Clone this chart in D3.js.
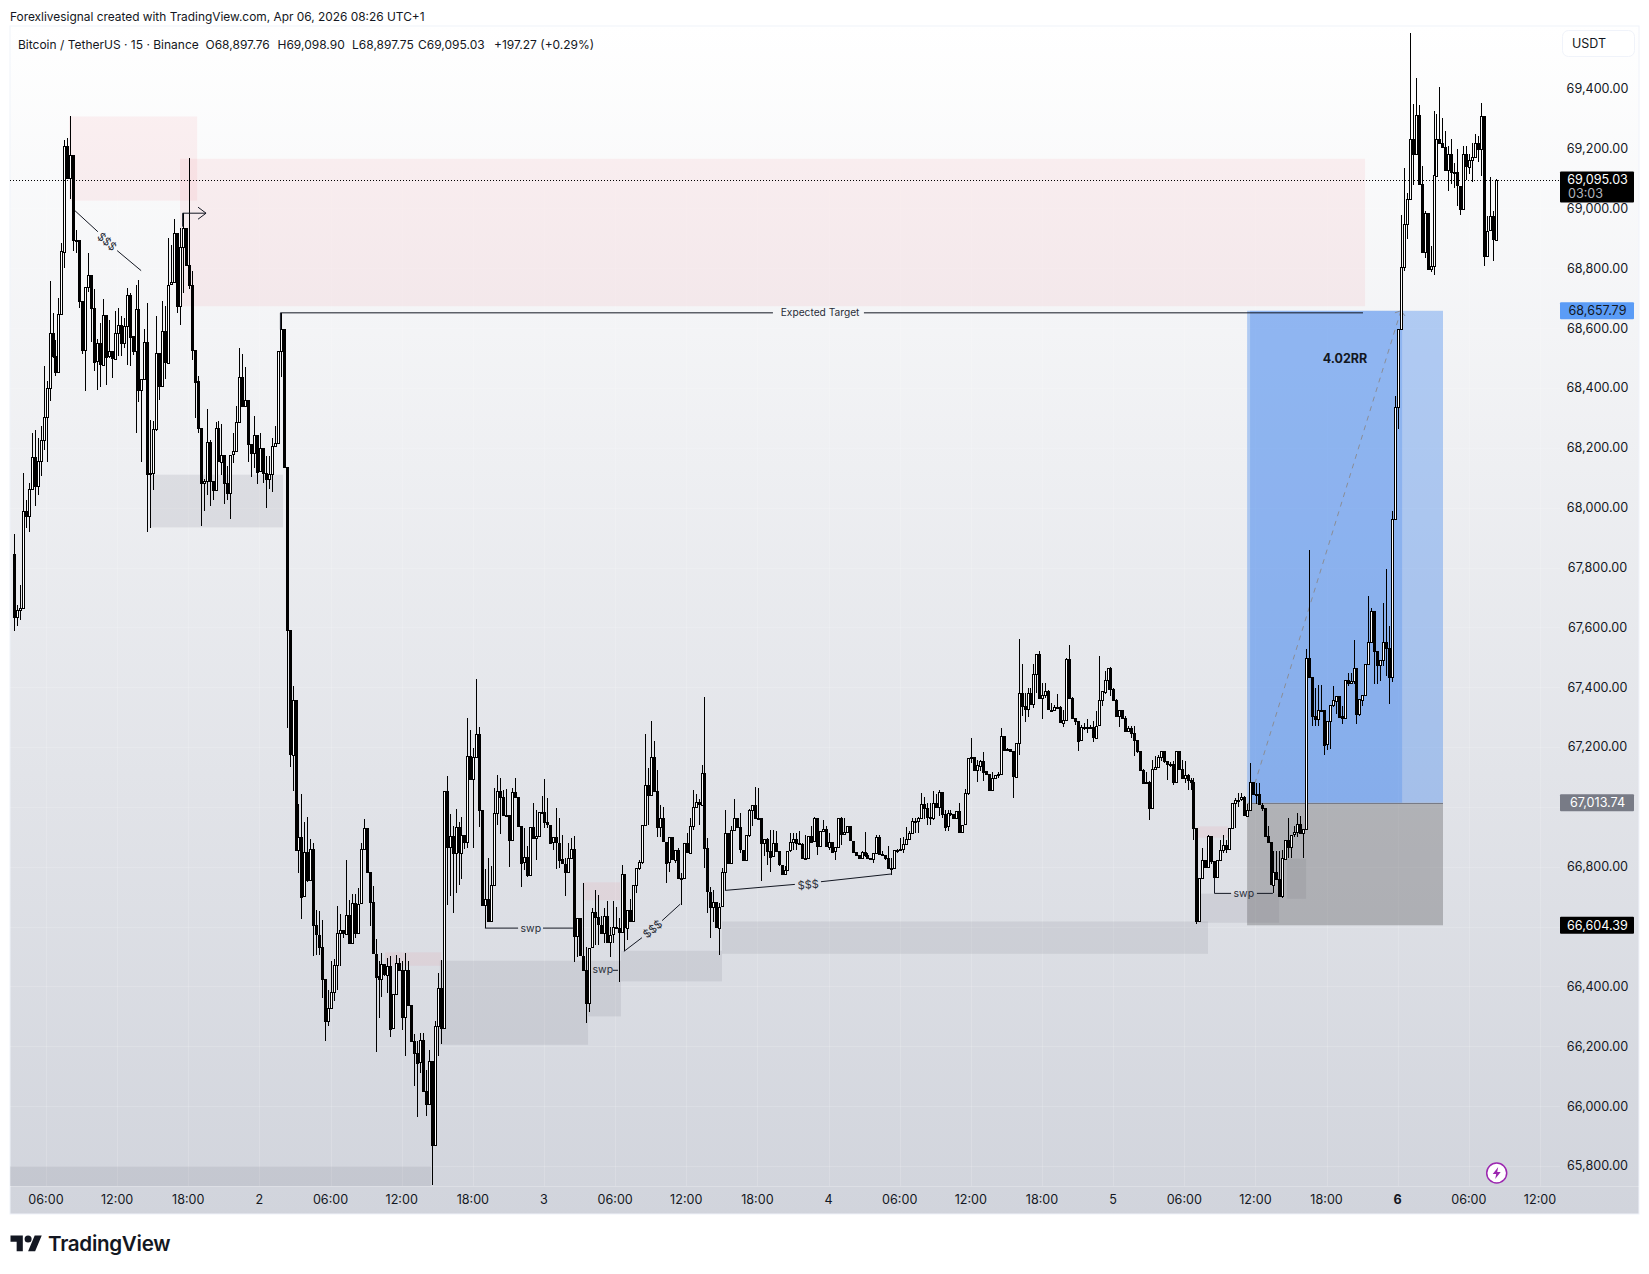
<!DOCTYPE html>
<html>
<head>
<meta charset="utf-8">
<script src="https://cdn.jsdelivr.net/npm/d3@7"></script>
<style>
html, body {margin: 0; background: #fff;}
svg {display: block;}
text {font-family: Inter, 'Noto Sans', sans-serif; fill: #131722;}
</style>
</head>
<body>
<svg id="chart" width="1649" height="1274"></svg>
<script>
// BTCUSDT 15m, values. open of a bar = close of the bar before
var firstOpen = 67846

var closes = [
  67637,67659,67665,67988,67971,68062,68169,68071,68155,68225,
  68303,68400,68584,68506,68452,68647,68857,69210,69102,69180,
  68896,68894,68690,68526,68738,68779,68668,68489,68550,68479,
  68645,68506,68522,68497,68584,68610,68550,68608,68712,68573,
  68522,68664,68394,68430,68554,68112,68116,68263,68517,68406,
  68589,68486,68745,68753,68918,68673,68871,68935,68812,68745,
  68528,68422,68266,68082,68088,68219,68088,68058,68266,68155,
  68177,68082,68049,68177,68188,68285,68437,68341,68361,68214,
  68183,68244,68121,68199,68116,68097,68113,68205,68216,68522,
  68597,68136,67590,67175,67358,66857,66900,66701,66848,66755,
  66859,66604,66573,66532,66425,66283,66328,66381,66471,66579,
  66588,66577,66640,66547,66679,66579,66677,66859,66930,66783,
  66682,66510,66434,66425,66475,66440,66470,66261,66375,66480,
  66456,66298,66456,66339,66219,66178,66146,66220,66050,66007,
  66150,65870,66267,66395,66261,67052,66866,66902,66846,66933,
  66848,66907,66883,67169,67093,67167,67244,66989,66673,66692,
  66618,66738,66980,67052,67033,66972,66974,66891,67050,67033,
  66937,66815,66833,66774,66933,66896,66902,66982,66982,66949,
  66941,66881,66898,66881,66825,66810,66782,66829,66860,66569,
  66628,66503,66455,66346,66530,66648,66631,66606,66578,66634,
  66547,66572,66597,66595,66580,66775,66597,66656,66620,66739,
  66795,66815,66940,67074,67040,67166,67052,66932,66962,66884,
  66815,66899,66825,66857,66762,66762,66879,66848,66937,66999,
  67015,67007,67113,66862,66717,66667,66683,66598,66667,66781,
  66912,66812,66923,66962,66932,66857,66825,66907,66990,67007,
  66962,66962,66879,66893,66853,66834,66879,66851,66806,66776,
  66790,66854,66882,66893,66879,66875,66829,66830,66903,66884,
  66962,66868,66918,66926,66868,66884,66851,66866,66962,66909,
  66915,66935,66887,66849,66840,66829,66849,66840,66829,66825,
  66845,66899,66843,66840,66829,66796,66796,66855,66857,66859,
  66877,66893,66913,66952,66952,66963,67010,66996,66965,66963,
  67013,66999,67050,66977,66935,66980,66977,66963,66987,66916,
  66941,67046,67163,67167,67122,67139,67155,67119,67110,67058,
  67097,67108,67110,67238,67191,67193,67187,67102,67214,67381,
  67336,67327,67381,67345,67444,67511,67364,67373,67386,67325,
  67323,67334,67334,67283,67292,67495,67364,67297,67288,67222,
  67267,67267,67264,67267,67233,67272,67356,67386,67425,67464,
  67395,67358,67303,67323,67297,67253,67264,67247,67222,67186,
  67124,67082,67082,66996,67127,67133,67166,67186,67152,67141,
  67144,67083,67186,67127,67097,67108,67091,67083,66930,66620,
  66763,66822,66799,66902,66818,66766,66822,66857,66874,66860,
  66930,67013,67024,67024,67032,66972,66991,67084,67043,67043,
  67008,66997,66902,66882,66740,66782,66759,66701,66829,66891,
  66868,66907,66915,66943,66913,66926,67498,67434,67303,67294,67325,
  67325,67208,67286,67339,67356,67372,67303,67297,67423,67412,
  67420,67464,67309,67359,67375,67478,67550,67654,67520,67473,
  67490,67550,67531,67434,67962,68336,68597,68804,68949,69033,
  69233,69182,69313,69082,68855,68985,68798,68807,69111,69233,
  69219,69205,69127,69182,69122,69121,69076,68998,69182,69141,
  69163,69172,69219,69199,69310,68843,68926,68974,68896,69095
]

var highs = [
  67913,67676,67743,68116,68027,68082,68250,68261,68233,68272,
  68472,68422,68756,68651,68561,68700,68885,69230,69236,69310,
  69180,68929,68894,68690,68738,68851,68779,68731,68564,68617,
  68697,68645,68628,68522,68656,68667,68640,68634,68734,68717,
  68573,68745,68760,68430,68597,68684,68294,68289,68640,68517,
  68690,68673,68901,68879,68965,68918,68935,68985,68935,69169,
  68790,68528,68439,68266,68095,68330,68225,68088,68285,68289,
  68281,68177,68140,68177,68250,68341,68534,68515,68470,68361,
  68214,68305,68244,68250,68199,68172,68172,68233,68272,68522,
  68651,68597,68136,67590,67403,67358,67011,67044,66948,66966,
  66893,66879,66654,66651,66621,66425,66387,66484,66492,66668,
  66643,66588,66824,66690,66710,66710,66729,66879,66960,66930,
  66783,66737,66560,66484,66512,66475,66495,66503,66375,66506,
  66495,66484,66512,66484,66339,66241,66217,66244,66244,66122,
  66189,66150,66284,66445,66489,67052,67104,66977,66935,66993,
  66949,66966,66907,67297,67258,67197,67429,67267,66989,66793,
  66829,66801,67063,67108,67097,67058,67060,66974,67063,67097,
  67033,66937,66930,66871,66933,67013,66991,66982,67038,67093,
  67030,66941,66900,66996,66962,66907,66830,66880,66896,66903,
  66628,66628,66747,66533,66530,66661,66723,66706,66635,66661,
  66684,66600,66684,66667,66628,66806,66775,66656,66692,66739,
  66795,66822,66940,67244,67130,67288,67219,67122,67007,67001,
  66884,66899,66899,66857,66862,66779,66879,66912,66962,67057,
  67044,67026,67141,67367,66896,66732,66723,66683,66678,66795,
  66990,66912,66935,67026,66962,66979,66857,66907,66992,67007,
  67066,67063,66962,66893,66896,66923,66923,66918,66851,66806,
  66801,66854,66914,66912,66912,66918,66879,66907,66903,66935,
  66966,66962,66918,66955,66935,66912,66884,66867,66962,66965,
  66962,66935,66935,66887,66849,66840,66851,66916,66845,66829,
  66845,66907,66907,66852,66840,66868,66829,66855,66860,66896,
  66899,66933,66920,66963,66963,66966,67046,67033,67013,67013,
  67052,67044,67058,67050,66991,66988,66988,66977,66987,67013,
  66941,67060,67163,67230,67167,67158,67156,67182,67119,67110,
  67115,67108,67115,67264,67238,67197,67193,67187,67214,67562,
  67479,67381,67397,67397,67479,67511,67520,67414,67414,67392,
  67347,67342,67378,67336,67325,67497,67542,67366,67297,67288,
  67275,67280,67294,67275,67286,67319,67503,67386,67453,67464,
  67467,67397,67360,67325,67325,67303,67270,67270,67271,67225,
  67186,67127,67116,67088,67158,67169,67172,67186,67186,67152,
  67149,67152,67186,67186,67158,67152,67110,67097,67097,66930,
  66763,66863,66822,66907,66902,66818,66822,66891,66907,66891,
  66930,67013,67030,67047,67047,67035,67011,67147,67084,67080,
  67080,67013,66997,66935,66882,66852,66852,66852,66855,66891,
  66963,66907,66935,66980,66969,66926,67528,67858,67434,67398,67408,
  67408,67325,67286,67339,67403,67372,67372,67336,67423,67448,
  67448,67559,67464,67359,67375,67478,67706,67665,67654,67520,
  67492,67682,67795,67606,67988,68374,68597,68979,69135,69050,
  69586,69350,69436,69344,69141,68990,68985,68876,69325,69316,
  69406,69302,69260,69208,69232,69152,69199,69076,69210,69210,
  69183,69219,69247,69241,69352,69310,68974,69105,68990,69098
]

var lows = [
  67589,67603,67626,67665,67932,67918,68062,68005,68043,68107,
  68194,68152,68355,68500,68441,68450,68645,68801,69102,69030,
  68857,68851,68668,68512,68389,68720,68553,68456,68392,68403,
  68479,68411,68500,68433,68497,68506,68506,68534,68478,68475,
  68511,68250,68352,68153,68430,67918,67932,68060,68255,68359,
  68406,68430,68484,68745,68751,68651,68609,68718,68807,68729,
  68495,68300,68250,67940,67988,68043,68007,68027,68058,68155,
  68110,68013,68025,67963,68149,68188,68283,68341,68339,68152,
  68103,68133,68080,68121,68083,67998,68062,68051,68205,68216,
  68437,68136,67264,67132,67052,66857,66779,66625,66701,66748,
  66755,66501,66506,66506,66361,66217,66269,66328,66350,66387,
  66467,66562,66573,66547,66547,66562,66580,66677,66859,66783,
  66601,66510,66180,66295,66365,66434,66378,66231,66261,66375,
  66456,66256,66166,66337,66219,66068,65963,66111,66050,65966,
  66007,65735,65870,66166,66208,66261,66673,66703,66646,66712,
  66740,66759,66859,66863,67093,66863,67167,66933,66673,66595,
  66618,66618,66738,66941,66908,66972,66969,66798,66891,67030,
  66937,66732,66790,66766,66774,66896,66824,66902,66979,66930,
  66930,66881,66855,66794,66795,66810,66701,66782,66829,66483,
  66500,66503,66455,66279,66316,66530,66539,66539,66576,66545,
  66547,66500,66545,66595,66416,66580,66517,66556,66620,66620,
  66712,66790,66810,66940,66940,67040,67052,66901,66901,66884,
  66747,66784,66825,66812,66762,66673,66762,66845,66845,66922,
  66999,66940,67007,66795,66645,66561,66617,66595,66506,66667,
  66722,66812,66812,66923,66929,66845,66822,66821,66900,66935,
  66962,66962,66751,66835,66806,66784,66834,66851,66801,66776,
  66776,66790,66850,66857,66857,66873,66829,66829,66830,66884,
  66884,66840,66868,66918,66868,66857,66851,66823,66866,66873,
  66905,66913,66887,66849,66837,66829,66829,66832,66829,66821,
  66814,66845,66841,66835,66824,66796,66774,66796,66845,66855,
  66846,66874,66891,66913,66913,66913,66963,66960,66941,66940,
  66957,66999,66968,66963,66918,66918,66968,66963,66963,66916,
  66916,66941,67040,67146,67122,67082,67119,67085,67110,67058,
  67058,67096,67097,67105,67191,67187,67187,67029,67102,67175,
  67305,67283,67300,67345,67330,67381,67361,67294,67364,67323,
  67320,67330,67326,67283,67266,67292,67364,67294,67275,67186,
  67222,67258,67247,67264,67216,67233,67272,67338,67378,67392,
  67370,67358,67303,67267,67297,67253,67253,67231,67169,67180,
  67119,67082,67080,66955,66996,67124,67130,67152,67146,67089,
  67135,67072,67083,67124,67097,67080,67058,67058,66888,66610,
  66620,66763,66799,66799,66809,66712,66766,66822,66845,66845,
  66860,66930,66930,67000,67020,66972,66972,66991,67043,67009,
  67008,66985,66902,66882,66740,66712,66757,66701,66696,66829,
  66829,66829,66900,66900,66913,66829,66926,67434,67270,67270,67270,
  67325,67173,67190,67192,67335,67309,67303,67278,67297,67405,
  67412,67410,67277,67303,67337,67375,67476,67548,67412,67412,
  67420,67470,67437,67345,67416,67962,68264,68597,68790,68898,
  69033,69077,69182,69080,68855,68834,68798,68787,68777,69111,
  69217,69205,69127,69057,69080,69068,69009,68979,68998,69096,
  69116,69087,69172,69154,69107,68807,68838,68926,68823,68897
]

var priceTicks = [69400,69200,69000,68800,68600,68400,68200,68000,67800,67600,67400,67200,67000,66800,66600,66400,66200,66000,65800]
var coveredTicks = [67000,66600]
var timeLabels = ['06:00','12:00','18:00','2','06:00','12:00','18:00','3','06:00','12:00','18:00','4','06:00','12:00','18:00','5','06:00','12:00','18:00','6','06:00','12:00']

var lastPrice = 69095.03
var targetPrice = 68657.79
var entryPrice = 67013.74
var stopPrice = 66604.39

// [bar from, bar to, price top, price bottom]
var pinkZones = [
  [18.6,61.8,69307,69026],
  [56,455.9,69166,68673],
  [125.2,144.3,66514,66469],
  [191.9,204.5,66748,66688],
  [399.5,409.6,66935,66897]
]
var grayZones = [
  [45.9,90.8,68110,67934],
  [-5,140.7,65799,65720],
  [143.7,193.7,66486,66205],
  [193.7,204.8,66486,66300],
  [204.8,238.9,66519,66417],
  [238.9,402.9,66617,66509],
  [399.5,426.9,66710,66613],
  [429.5,436,66827,66693]
]

// long position, in bars: tool start, fill start, target hit, tool end
var posBars = [416.1,417.1,468.4,482.2]
var posPath = [416.7,468]

// drawn lines: pieces are [bar, price, bar, price], the label sits in the gap
var targetLabelAt = [272,68651]
var sketches = [
  {label: 'Expected Target', at: [272,68651], angle: 0, size: 10.2, parts: [[89.9,68595,89.9,68651],[89.9,68651,256.1,68651],[286.8,68651,455.2,68651]]},
  {label: '$$$', at: [31.4,68889], angle: 42, size: 11, parts: [[20.6,68992,28.3,68922],[34.8,68859,42.9,68792]]},
  {label: '$$$', at: [215.5,66592], angle: -40, size: 11, parts: [[205.8,66517,211.9,66563],[218.7,66620,224.8,66675]]},
  {label: '$$$', at: [268,66740], angle: -5, size: 11, parts: [[239.9,66721,263.5,66741],[272.3,66750,296.2,66776]]},
  {label: 'swp', at: [174.4,66593], angle: 0, size: 10.5, parts: [[158.9,66595,170.1,66595],[178.5,66595,188.6,66595]]},
  {label: 'swp', at: [198.7,66456], angle: 0, size: 10.5, parts: [[202.1,66454,203.8,66454]]},
  {label: 'swp', at: [415,66710], angle: 0, size: 10.5, parts: [[405.1,66763,405.1,66711],[405.1,66711,410.7,66711],[419.4,66711,424.8,66711]]},
  {label: '', at: [56.9,68984], angle: 0, size: 10, parts: [[56.9,68939,56.9,68984],[56.9,68984,64.8,68984]]}
]
var rrLabel = {text: '4.02RR', at: [449.1,68497]}

var chart = {left: 10, right: 1639, top: 26, bottom: 1214, axisX: 1560, axisY: 1186}

var bars = closes.map((c, i) => ({
  i, c, h: highs[i], l: lows[i],
  o: i ? closes[i - 1] : firstOpen
}))

var x = d3.scaleLinear().domain([0, bars.length - 1]).range([14, 14 + (bars.length - 1)*2.9635])
var y = d3.scaleLinear().domain([65800, 69400]).range([1166, 88.7])
var timeX = d3.scaleLinear().domain([0, timeLabels.length - 1]).range([46, 1540])

var svg = d3.select('#chart')
var defs = svg.append('defs')

var grad = defs.append('linearGradient').attr('id', 'bg').attr('x2', 0).attr('y2', 1)
grad.append('stop').attr('offset', 0).attr('stop-color', '#ffffff')
grad.append('stop').attr('offset', 1).attr('stop-color', '#d1d4dc')

defs.append('clipPath').attr('id', 'plot').append('rect')
  .attr('x', chart.left).attr('y', chart.top)
  .attr('width', chart.axisX - chart.left).attr('height', chart.axisY - chart.top)

svg.append('rect')
  .attr('x', chart.left).attr('y', chart.top)
  .attr('width', chart.right - chart.left).attr('height', chart.bottom - chart.top)
  .attr('fill', 'url(#bg)').attr('stroke', '#f0f3fa')

var plot = svg.append('g').attr('clip-path', 'url(#plot)')

// grid
plot.selectAll('line.v').data(timeLabels).join('line').attr('class', 'v')
  .attr('x1', (d, i) => Math.round(timeX(i)) + .5).attr('x2', (d, i) => Math.round(timeX(i)) + .5)
  .attr('y1', chart.top).attr('y2', chart.axisY)
  .attr('stroke', '#fff').attr('stroke-opacity', .16)
plot.selectAll('line.h').data(priceTicks).join('line').attr('class', 'h')
  .attr('x1', chart.left).attr('x2', chart.axisX)
  .attr('y1', d => Math.round(y(d)) + .5).attr('y2', d => Math.round(y(d)) + .5)
  .attr('stroke', '#fff').attr('stroke-opacity', .16)
svg.append('line').attr('x1', chart.left).attr('x2', chart.right)
  .attr('y1', chart.axisY + .5).attr('y2', chart.axisY + .5)
  .attr('stroke', '#fff').attr('stroke-opacity', .25)

function zones(data, fill){
  plot.append('g').selectAll('rect').data(data).join('rect')
    .attr('x', d => x(d[0])).attr('width', d => x(d[1]) - x(d[0]))
    .attr('y', d => y(d[2])).attr('height', d => y(d[3]) - y(d[2]))
    .attr('fill', fill)
}
zones(pinkZones, 'rgba(242,54,69,.065)')
zones(grayZones, 'rgba(120,123,134,.15)')

// long position tool
var pos = plot.append('g')
function posRect(from, to, top, bottom, fill){
  pos.append('rect').attr('x', x(from)).attr('width', x(to) - x(from))
    .attr('y', y(top)).attr('height', y(bottom) - y(top)).attr('fill', fill)
}
posRect(posBars[0], posBars[3], targetPrice, entryPrice, 'rgba(66,133,236,.38)')
posRect(posBars[1], posBars[2], targetPrice, entryPrice, 'rgba(41,118,240,.24)')
posRect(posBars[0], posBars[3], entryPrice, stopPrice, 'rgba(100,100,104,.39)')
pos.append('line').attr('x1', x(posBars[0])).attr('x2', x(posBars[3]))
  .attr('y1', Math.round(y(entryPrice)) + .5).attr('y2', Math.round(y(entryPrice)) + .5)
  .attr('stroke', '#787b86')
pos.append('line').attr('x1', x(posPath[0])).attr('x2', x(posPath[1]))
  .attr('y1', y(entryPrice)).attr('y2', y(targetPrice))
  .attr('stroke', '#8a8d96').attr('stroke-dasharray', '5 5')
pos.append('path').attr('transform', 'translate(' + x(posPath[1]) + ',' + y(targetPrice) + ')')
  .attr('d', 'M-6 2L0 0L4 5').attr('fill', 'none').attr('stroke', '#8a8d96')

// candles
var candle = plot.append('g').selectAll('g').data(bars).join('g')
  .attr('transform', d => 'translate(' + Math.round(x(d.i)) + ',0)')
candle.append('line')
  .attr('x1', .5).attr('x2', .5)
  .attr('y1', d => y(d.h)).attr('y2', d => y(d.l))
  .attr('stroke', '#000').attr('shape-rendering', 'crispEdges')
candle.append('rect')
  .attr('x', -.5).attr('width', 2)
  .attr('y', d => Math.round(y(Math.max(d.o, d.c))) + .5)
  .attr('height', d => Math.max(1, Math.round(Math.abs(y(d.o) - y(d.c)))))
  .attr('fill', d => d.c >= d.o ? '#fff' : '#000')
  .attr('stroke', '#000').attr('shape-rendering', 'crispEdges')

// drawings
var ink = plot.append('g').attr('fill', 'none').attr('stroke', '#131722')
var notes = plot.append('g')

sketches.forEach(s => {
  s.parts.forEach(p => {
    ink.append('line')
      .attr('x1', x(p[0])).attr('y1', y(p[1]))
      .attr('x2', x(p[2])).attr('y2', y(p[3]))
  })
  if (!s.label) return
  notes.append('text').text(s.label)
    .attr('transform', 'translate(' + x(s.at[0]) + ',' + y(s.at[1]) + ') rotate(' + s.angle + ')')
    .attr('text-anchor', 'middle').attr('dy', '.35em')
    .style('font-size', s.size + 'px').style('fill', '#2a2e39')
})

// break arrow head
var arrowEnd = sketches[sketches.length - 1].parts[1]
ink.append('path').attr('transform', 'translate(' + x(arrowEnd[2]) + ',' + y(arrowEnd[3]) + ')')
  .attr('d', 'M-8 -6L0 0L-8 6')

notes.append('text').text(rrLabel.text).attr('x', x(rrLabel.at[0])).attr('y', y(rrLabel.at[1]))
  .attr('text-anchor', 'middle').attr('dy', '.35em')
  .style('font-size', '12.5px').style('font-weight', 700)

// last price line
svg.append('line').attr('x1', chart.left).attr('x2', chart.axisX)
  .attr('y1', Math.round(y(lastPrice)) + .5).attr('y2', Math.round(y(lastPrice)) + .5)
  .attr('stroke', '#000').attr('stroke-dasharray', '1 2')

// axes
var fmt = d3.format(',.2f')
var labelX = 1597.5
svg.append('g').selectAll('text').data(priceTicks.filter(d => !coveredTicks.includes(d))).join('text')
  .text(d => fmt(d))
  .attr('x', labelX).attr('y', d => y(d)).attr('dy', '.35em').attr('text-anchor', 'middle')
  .style('font-size', '12.6px')

svg.append('g').selectAll('text').data(timeLabels).join('text')
  .text(d => d)
  .attr('x', (d, i) => timeX(i)).attr('y', 1200).attr('dy', '.35em').attr('text-anchor', 'middle')
  .style('font-size', '12.6px').style('font-weight', d => d == '6' ? 700 : 400)

function priceTag(price, fill, color, h){
  svg.append('rect').attr('x', chart.axisX).attr('width', 74)
    .attr('y', y(price) - 8.5).attr('height', h || 17).attr('rx', 1).attr('fill', fill)
  svg.append('text').text(fmt(price)).attr('x', labelX).attr('y', y(price)).attr('dy', '.35em')
    .attr('text-anchor', 'middle').style('font-size', '12.6px').style('fill', color)
}
priceTag(targetPrice, '#5b9cf6', '#131722')
priceTag(entryPrice, '#787b86', '#fff')
priceTag(stopPrice, '#000', '#fff')
priceTag(lastPrice, '#000', '#fff', 31)
svg.append('text').text('03:03').attr('x', 1568).attr('y', y(lastPrice) + 13.5).attr('dy', '.35em')
  .style('font-size', '12.6px').style('fill', '#b2b5be')

svg.append('rect').attr('x', 1562.5).attr('y', 30.5).attr('width', 72).attr('height', 26).attr('rx', 6)
  .attr('fill', '#fff').attr('stroke', '#f0f3fa')
svg.append('text').text('USDT').attr('x', 1572).attr('y', 44).attr('dy', '.35em').style('font-size', '12.5px')

// headers
svg.append('text').text('Forexlivesignal created with TradingView.com, Apr 06, 2026 08:26 UTC+1')
  .attr('x', 10).attr('y', 17).attr('dy', '.35em').style('font-size', '11.9px')
svg.append('text').text('Bitcoin / TetherUS · 15 · Binance')
  .attr('x', 18).attr('y', 44.5).attr('dy', '.35em').style('font-size', '12px')
var ohlc = [['O68,897.76', 205.5], ['H69,098.90', 277.5], ['L68,897.75', 352], ['C69,095.03', 418], ['+197.27 (+0.29%)', 494]]
svg.append('g').selectAll('text').data(ohlc).join('text')
  .text(d => d[0]).attr('x', d => d[1]).attr('y', 44.5).attr('dy', '.35em').style('font-size', '12px')

// lightning badge
var badge = svg.append('g').attr('transform', 'translate(1496.7,1173)')
badge.append('circle').attr('r', 10).attr('fill', '#fff').attr('stroke', '#9c27b0').attr('stroke-width', 1.5)
badge.append('path').attr('d', 'M1.5 -6L-4 1H-.5L-1.5 6L4 -1H.5Z').attr('fill', '#9c27b0')

// logo
var logo = svg.append('g').attr('transform', 'translate(10.5,1232) scale(.88)').attr('fill', '#131722')
logo.append('path').attr('d', 'M14 22H7V11H0V4h14v18zM28 22h-8l7.5-18h8L28 22z')
logo.append('circle').attr('cx', 20).attr('cy', 8).attr('r', 4)
svg.append('text').text('TradingView').attr('x', 48).attr('y', 1251)
  .style('font-size', '20.6px').style('font-weight', 600).style('letter-spacing', '-.3px')
</script>
</body>
</html>
